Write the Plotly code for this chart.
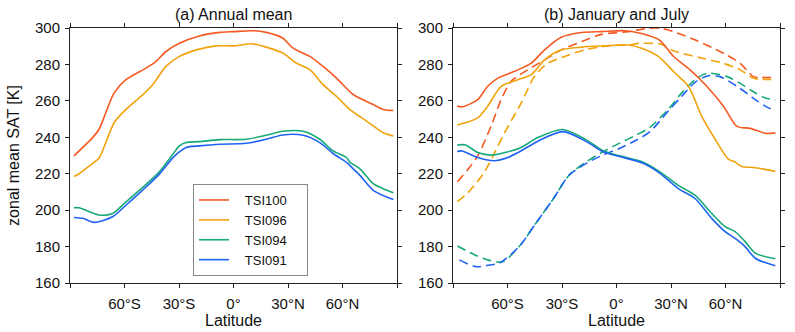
import plotly.graph_objects as go

# ---------------- data ----------------
# (a) Annual mean
ann_tsi100_lat = [-87.8, -77.6, -74, -70.3, -65.7, -59.2, -48.2, -42.7, -37.2, -29.8, -18.8, -7.7, 0, 10.7, 18, 27.2, 32.8, 42, 49.3, 56.7, 65.9, 76.9, 82.4, 88]
ann_tsi100 = [229.8, 239.8, 244.4, 253.5, 264.4, 271.6, 278, 281.6, 287.1, 291.6, 295.6, 297.6, 298, 298.5, 297.6, 294.4, 288.9, 284.4, 278.9, 272.5, 263.5, 258, 255.3, 254.7]

ann_tsi096_lat = [-87.8, -85, -76.7, -74, -70.3, -65.7, -59.2, -51.9, -44.5, -37.2, -29.8, -18.8, -9.6, 0, 10.7, 18, 27.2, 34.6, 42, 49.3, 56.7, 64, 73.2, 82.4, 88]
ann_tsi096 = [218.5, 220, 226.4, 228.5, 237.1, 248, 255.3, 261.6, 268.9, 278.9, 284.4, 288.4, 290.2, 290.2, 291.3, 289.5, 286.2, 280.7, 277.1, 268.9, 262.5, 255.3, 248.9, 242.5, 240.7]

ann_tsi094_lat = [-87.8, -85, -74, -66.6, -59.2, -50, -40.8, -33.5, -29.8, -26.1, -18.8, -7.7, 7, 18, 27.2, 38.3, 47.5, 54.8, 62.2, 64, 69.6, 76.9, 82.4, 88]
ann_tsi094 = [201.3, 201.3, 197.3, 198.2, 204.5, 212.5, 221, 230.5, 235.3, 237.1, 237.6, 238.7, 238.9, 241.1, 243.3, 243.3, 238.9, 232.5, 228.9, 226.4, 222.7, 214.5, 211.8, 209.6]

ann_tsi091_lat = [-87.8, -83, -76.7, -66.6, -59.2, -50, -40.8, -32.6, -26.1, -18.8, -7.7, 7, 18, 27.2, 38.3, 47.5, 54.8, 62.2, 65.9, 69.6, 76.9, 88]
ann_tsi091 = [196, 195.5, 193.3, 196.4, 202.7, 211, 219.8, 229.5, 234.4, 235.3, 236.2, 236.7, 238.9, 241.3, 241.1, 237.1, 231.1, 226.2, 222.7, 219.1, 210.9, 205.8]

# (b) January (solid)
jan_tsi100_lat = [-87.7, -85, -76.4, -70.9, -65.3, -56.1, -46.9, -39.6, -30.4, -19.3, -8.3, 4.6, 13.8, 23.5, 31.3, 40.5, 49.7, 58.9, 66.3, 73.6, 81.8, 87.4]
jan_tsi100 = [257.1, 256.7, 260.7, 268, 272.5, 276.2, 280.7, 288, 294.9, 297.5, 298, 298.5, 297, 293.5, 284.5, 277, 268, 257, 246, 244.9, 242.2, 242.4]

jan_tsi096_lat = [-87.7, -76.4, -70.9, -63.5, -54.3, -46.9, -39.6, -30.4, -19.3, -6.4, 6.4, 13.8, 23, 32.2, 39.6, 46.9, 54.3, 61.6, 65.3, 69, 76.4, 87.4]
jan_tsi096 = [246.7, 250.7, 257.1, 268, 271.6, 274.4, 282.5, 288, 289.5, 290.2, 290.7, 288.9, 284.4, 275.3, 268, 251.6, 238.9, 228, 226.4, 224, 223.3, 221.3]

jan_tsi094_lat = [-87.7, -83, -76.4, -69, -61.6, -53.4, -43, -29.5, -16.6, -7.4, 1.8, 14.7, 23.9, 34, 43.2, 52.4, 59.8, 65.3, 70.8, 76.4, 87.4]
jan_tsi094 = [235.8, 235.8, 231.6, 230.2, 231.6, 234, 240, 244.3, 238.6, 232.6, 229.8, 226.3, 221, 213.6, 208.2, 198.2, 190.9, 188.2, 182.7, 176.4, 173.3]

jan_tsi091_lat = [-87.7, -85, -76.4, -67.2, -59.8, -53.4, -43, -29.5, -16.6, -7.4, 1.8, 14.7, 23.9, 34, 43.2, 52.4, 59.8, 65.3, 70.8, 76.4, 87.4]
jan_tsi091 = [232.2, 232.5, 228.9, 227.1, 228.9, 232.1, 238, 243.1, 237.6, 232.1, 229.4, 225.7, 220.2, 211.8, 206.4, 195.5, 188.2, 184.5, 180, 173.6, 169.5]

# (b) July (dashed)
jul_tsi100_lat = [-87.6, -82.1, -76.4, -69, -63.5, -58, -48.8, -39.6, -30.4, -19.3, -8.3, 6.4, 17.5, 24.8, 31.3, 43.2, 58.9, 68.1, 75.4, 80, 87.4]
jul_tsi100 = [215.6, 222, 229.8, 246.2, 260.7, 270.7, 277.1, 282.5, 288, 292.5, 296.5, 298, 299.8, 299.8, 298, 293.5, 286.1, 280.6, 273.3, 272.9, 272.7]

jul_tsi096_lat = [-87.6, -81.9, -73.8, -69.9, -61.6, -52.4, -45.1, -37.7, -28.5, -17.5, -4.6, 6.4, 12.9, 24.8, 31.3, 46.9, 58.9, 68.1, 75.4, 80, 87.4]
jul_tsi096 = [204.7, 209.5, 219.3, 226, 242.5, 258.9, 273.5, 280.7, 284.4, 288, 290.2, 290.7, 291.6, 291, 287.5, 283.5, 280.6, 277, 272.4, 271.8, 271.8]

jul_tsi094_lat = [-87.6, -78.2, -72, -62.8, -53.6, -44.4, -35.2, -26, -16.6, -7.4, 1.8, 11, 18.4, 28.5, 35.9, 43.2, 49.7, 60.8, 68.1, 75.4, 81.9, 87.4]
jul_tsi094 = [180.3, 175.5, 173, 171.7, 180, 192.8, 205.6, 219.3, 226.5, 232.1, 236.8, 241.3, 245.5, 255.3, 264.4, 271.6, 275.1, 273.3, 269.6, 265, 261.6, 260.5]

jul_tsi091_lat = [-86.5, -77.5, -69, -64.6, -53.6, -44.4, -35.2, -26, -16.6, -7.4, 1.8, 11, 18.4, 28.5, 35.9, 43.2, 50.6, 57, 68.1, 75.4, 81.9, 87.4]
jul_tsi091 = [172.7, 169, 170, 170.8, 180, 192.8, 205.6, 219.3, 225.7, 230.3, 234, 238.5, 243.1, 254.4, 262.5, 270.2, 273.8, 273.3, 266.8, 261.4, 257.1, 254.4]

series_names = ["TSI100", "TSI096", "TSI094", "TSI091"]
x_tickvals = [-90, -60, -30, 0, 30, 60, 90]
x_ticktext = ["", "60°S", "30°S", "0°", "30°N", "60°N", ""]
y_tickvals = [160, 180, 200, 220, 240, 260, 280, 300]

# ---------------- styling ----------------
colors = ["#F65A23", "#F0A30C", "#17A97A", "#1F63F5"]
FONT = "Liberation Sans, Arial, Helvetica, sans-serif"
TXT = "#111111"
NB = "\u00a0"

fig = go.Figure()

ann = [(ann_tsi100_lat, ann_tsi100), (ann_tsi096_lat, ann_tsi096),
       (ann_tsi094_lat, ann_tsi094), (ann_tsi091_lat, ann_tsi091)]
jan = [(jan_tsi100_lat, jan_tsi100), (jan_tsi096_lat, jan_tsi096),
       (jan_tsi094_lat, jan_tsi094), (jan_tsi091_lat, jan_tsi091)]
jul = [(jul_tsi100_lat, jul_tsi100), (jul_tsi096_lat, jul_tsi096),
       (jul_tsi094_lat, jul_tsi094), (jul_tsi091_lat, jul_tsi091)]

for i, (x, y) in enumerate(ann):
    fig.add_trace(go.Scatter(x=x, y=y, mode="lines", name=NB * 3 + series_names[i] + NB * 4,
                             line=dict(color=colors[i], width=1.6, shape="spline", smoothing=0.8),
                             xaxis="x", yaxis="y", showlegend=True))
for i, (x, y) in enumerate(jul):
    fig.add_trace(go.Scatter(x=x, y=y, mode="lines", name=series_names[i] + " Jul",
                             line=dict(color=colors[i], width=1.6, dash="9px,5px", shape="spline", smoothing=0.8),
                             xaxis="x2", yaxis="y2", showlegend=False))
for i, (x, y) in enumerate(jan):
    fig.add_trace(go.Scatter(x=x, y=y, mode="lines", name=series_names[i] + " Jan",
                             line=dict(color=colors[i], width=1.6, shape="spline", smoothing=0.8),
                             xaxis="x2", yaxis="y2", showlegend=False))

xaxis_common = dict(range=[-90, 90], tickvals=x_tickvals, ticktext=x_ticktext,
                    ticks="outside", ticklen=4, tickcolor="#222", tickwidth=1,
                    showline=True, linecolor="#222", linewidth=1, mirror="allticks",
                    showgrid=False, zeroline=False, ticklabelstandoff=3, automargin=False,
                    tickfont=dict(size=15, color=TXT),
                    title=dict(text="Latitude", font=dict(size=16, color=TXT), standoff=0))
yaxis_common = dict(range=[160, 300], tickvals=y_tickvals,
                    ticks="outside", ticklen=4, tickcolor="#222", tickwidth=1,
                    showline=True, linecolor="#222", linewidth=1, mirror="allticks",
                    showgrid=False, zeroline=False, ticklabelstandoff=2, automargin=False,
                    tickfont=dict(size=15, color=TXT))

W, H = 795, 332
L, R, T, B = 70, 15, 28, 49
pw = W - L - R
ph = H - T - B
d1 = [0, (397 - L) / pw]
d2 = [(453 - L) / pw, 1]

fig.update_layout(
    width=W, height=H,
    margin=dict(l=L, r=R, t=T, b=B),
    paper_bgcolor="white", plot_bgcolor="white",
    font=dict(family=FONT, color=TXT),
    xaxis=dict(domain=d1, anchor="y", **xaxis_common),
    yaxis=dict(domain=[0, 1], anchor="x",
               title=dict(text="zonal mean SAT [K]", font=dict(size=16, color=TXT), standoff=11),
               **yaxis_common),
    xaxis2=dict(domain=d2, anchor="y2", **xaxis_common),
    yaxis2=dict(domain=[0, 1], anchor="x2", **yaxis_common),
    legend=dict(x=(193 - L) / pw, y=(283 - 184) / ph, xanchor="left", yanchor="top",
                bgcolor="white", bordercolor="#888", borderwidth=1,
                font=dict(size=13, color=TXT), tracegroupgap=0, itemwidth=30),
    showlegend=True,
    annotations=[
        dict(text="(a) Annual mean", x=sum(d1) / 2, y=1, xref="paper", yref="paper",
             xanchor="center", yanchor="bottom", yshift=3, showarrow=False,
             font=dict(size=16, color=TXT)),
        dict(text="(b) January and July", x=sum(d2) / 2, y=1, xref="paper", yref="paper",
             xanchor="center", yanchor="bottom", yshift=3, showarrow=False,
             font=dict(size=16, color=TXT)),
    ],
)

fig.write_html("out.html", config={"displayModeBar": False},
               post_script="document.body.style.margin='0';document.body.style.overflow='hidden';")
